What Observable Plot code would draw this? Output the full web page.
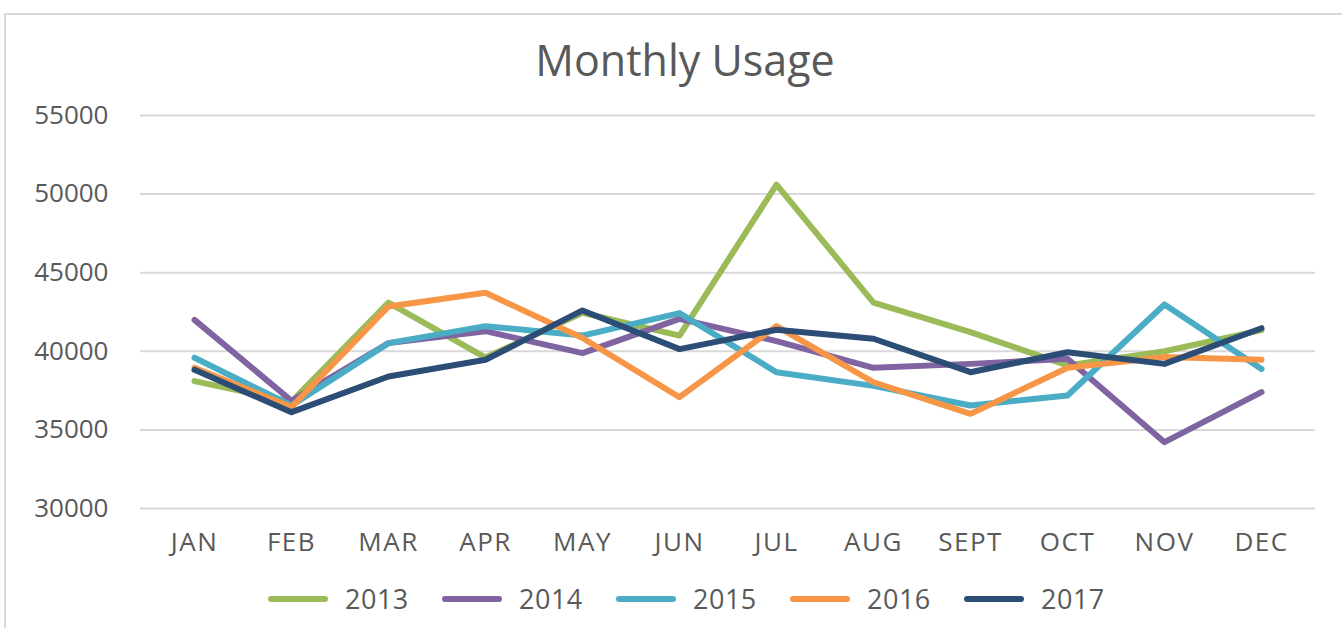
<!DOCTYPE html>
<html>
<head>
<meta charset="utf-8">
<script src="https://cdn.jsdelivr.net/npm/d3@7"></script>
<script src="https://cdn.jsdelivr.net/npm/@observablehq/plot@0.6"></script>
<style>
  html, body { margin: 0; padding: 0; background: #fff; }
  body { width: 1342px; height: 628px; position: relative; overflow: hidden; font-family: "Open Sans", sans-serif; color: #595959; }
  #frame { position: absolute; left: 4px; top: 13px; width: 1400px; height: 700px; border: 2px solid #d9d9d9; box-sizing: border-box; }
  #title { position: absolute; left: 0; top: 32px; width: 1370px; text-align: center; font-size: 43px; line-height: 56px; color: #595959; }
  #chart { position: absolute; left: 0; top: 95px; }
  #chart g[aria-label="x-axis tick label"] text { letter-spacing: 1.5px; }
  #legend { position: absolute; left: 268px; top: 580px; height: 38px; display: flex; align-items: center; }
  .item { display: inline-flex; align-items: center; width: 174px; }
  .sw { width: 60px; height: 6px; border-radius: 3px; margin-right: 17px; }
  .lt { font-size: 27px; line-height: 38px; color: #595959; letter-spacing: 0.5px; }
</style>
</head>
<body>
<div id="frame"></div>
<div id="title">Monthly Usage</div>
<div id="chart"></div>
<div id="legend"></div>
<script>
const months = ["JAN","FEB","MAR","APR","MAY","JUN","JUL","AUG","SEPT","OCT","NOV","DEC"];
const years = ["2013","2014","2015","2016","2017"];
const yTicks = [30000, 35000, 40000, 45000, 50000, 55000];
const usage2013 = [38100, 36800, 43100, 39600, 42450, 41000, 50600, 43100, 41220, 39100, 40000, 41350];
const usage2014 = [42000, 36850, 40520, 41280, 39880, 42060, 40650, 38950, 39200, 39520, 34220, 37400];
const usage2015 = [39590, 36550, 40520, 41600, 41000, 42430, 38670, 37800, 36550, 37190, 42980, 38880];
const usage2016 = [38950, 36450, 42850, 43720, 40850, 37080, 41600, 38030, 36020, 38950, 39630, 39460];
const usage2017 = [38820, 36130, 38400, 39460, 42600, 40140, 41370, 40800, 38670, 39940, 39200, 41470];
const colors = ["#9BBB59", "#8064A2", "#4BACC6", "#F79646", "#2C4D75"];

const seriesValues = [usage2013, usage2014, usage2015, usage2016, usage2017];
const data = [];
years.forEach((yr, i) => {
  months.forEach((m, j) => data.push({year: yr, month: m, value: seriesValues[i][j]}));
});

const chart = Plot.plot({
  width: 1342,
  height: 475,
  marginLeft: 140,
  marginRight: 27,
  marginTop: 20,
  marginBottom: 62,
  style: { fontFamily: "Open Sans", fontSize: "26px", color: "#595959", background: "transparent" },
  x: { type: "point", domain: months, padding: 0.5, label: null },
  y: { domain: [30000, 55000], label: null },
  color: { domain: years, range: colors },
  marks: [
    Plot.ruleY(yTicks, { stroke: "#d9d9d9", strokeWidth: 2 }),
    Plot.axisY({ ticks: yTicks, tickSize: 0, tickPadding: 32, tickFormat: d => String(d), label: null }),
    Plot.axisX({ tickSize: 0, tickPadding: 24, label: null }),
    Plot.line(data, { x: "month", y: "value", z: "year", stroke: "year", strokeWidth: 6, strokeLinecap: "round", strokeLinejoin: "round" })
  ]
});
document.getElementById("chart").appendChild(chart);

const legend = document.getElementById("legend");
years.forEach((yr, i) => {
  const item = document.createElement("div");
  item.className = "item";
  const sw = document.createElement("span");
  sw.className = "sw";
  sw.style.background = colors[i];
  const t = document.createElement("span");
  t.className = "lt";
  t.textContent = yr;
  item.appendChild(sw);
  item.appendChild(t);
  legend.appendChild(item);
});
</script>
</body>
</html>
